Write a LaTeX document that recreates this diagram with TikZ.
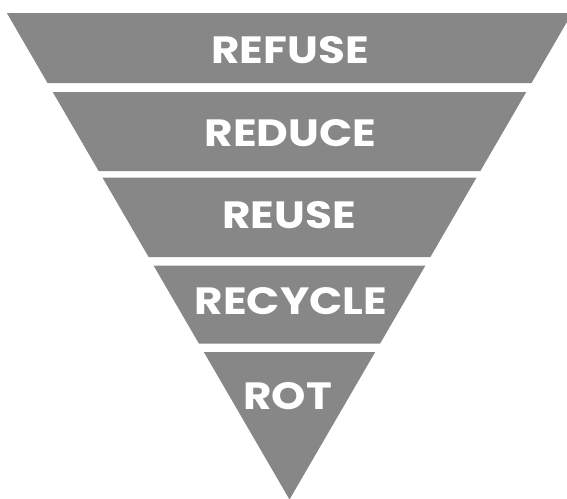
\documentclass[tikz,border=0pt]{standalone}
\usepackage{fontspec}
\newfontfamily\popfont[FakeStretch=1.15]{Poppins}
\definecolor{bandgray}{HTML}{878787}
\begin{document}
\begin{tikzpicture}[x=1pt,y=-1pt,
  band/.style={fill=bandgray,draw=none},
  lbl/.style={text=white,font=\popfont\bfseries\fontsize{38}{38}\selectfont,inner sep=0pt,anchor=center}]
\useasboundingbox (0,0) rectangle (567,498);
\clip (0,0) rectangle (567,498);
\fill[band] (6.84,13) -- (572.16,13) -- (531.49,83) -- (47.51,83) -- cycle;
\fill[band] (52.74,92) -- (526.26,92) -- (480.36,171) -- (98.64,171) -- cycle;
\fill[band] (102.42,177.5) -- (476.58,177.5) -- (430.39,257) -- (148.61,257) -- cycle;
\fill[band] (153.55,265.5) -- (425.45,265.5) -- (380.14,343.5) -- (198.86,343.5) -- cycle;
\fill[band] (203.8,352) -- (375.2,352) -- (289.5,499.5) -- cycle;
\node[lbl] (refuse) at (290,50) {REFUSE};
\node[lbl] (reduce) at (290.5,133) {REDUCE};
\node[lbl] (reuse) at (289,215.5) {REUSE};
\node[lbl] (recycle) at (291,301) {RECYCLE};
\node[lbl] (rot) at (287.5,396) {ROT};
\end{tikzpicture}
\end{document}
